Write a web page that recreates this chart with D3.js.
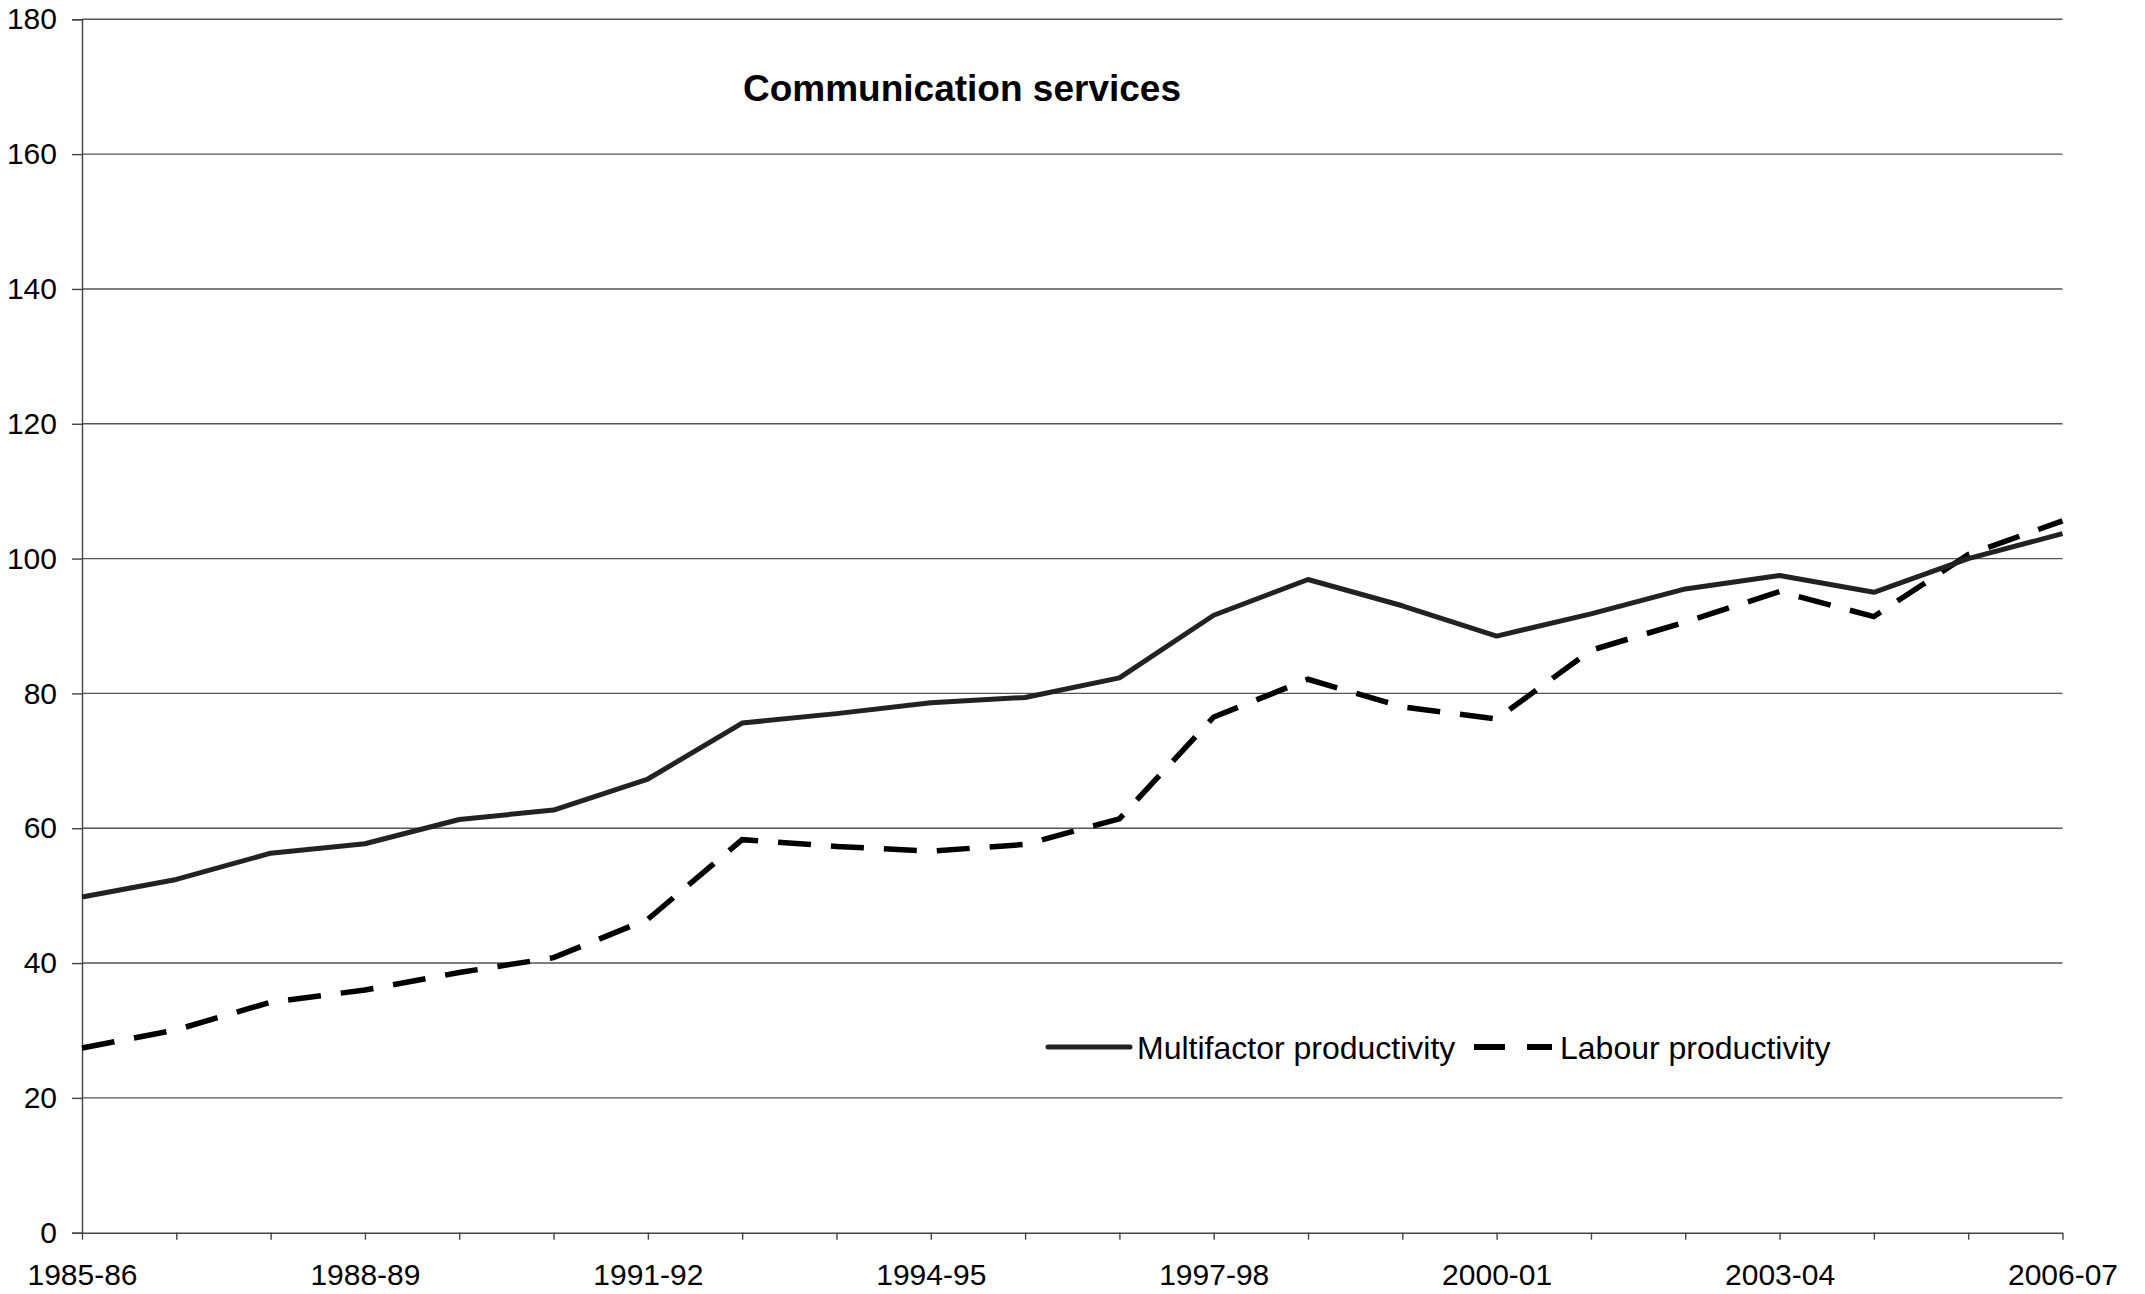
<!DOCTYPE html>
<html>
<head>
<meta charset="utf-8">
<script src="https://cdn.jsdelivr.net/npm/d3@7"></script>
<style>
    body { margin: 0; background: #fff; }
    svg text { font-family: "Liberation Sans", Arial, sans-serif; fill: #000; }
</style>
</head>
<body>
<div id="chart"></div>
<script>
const years = ["1985-86", "1986-87", "1987-88", "1988-89", "1989-90", "1990-91", "1991-92",
    "1992-93", "1993-94", "1994-95", "1995-96", "1996-97", "1997-98", "1998-99", "1999-00",
    "2000-01", "2001-02", "2002-03", "2003-04", "2004-05", "2005-06", "2006-07"];

const multifactor = [49.8, 52.4, 56.3, 57.7, 61.3, 62.7, 67.3, 75.6, 77.0, 78.6, 79.4, 82.3,
    91.6, 96.9, 93.0, 88.5, 91.8, 95.5, 97.5, 95.0, 100.0, 103.7];

const labour = [27.4, 30.1, 34.2, 36.0, 38.6, 40.8, 46.5, 58.3, 57.3, 56.6, 57.6, 61.4,
    76.5, 82.1, 78.0, 76.2, 86.4, 90.6, 95.1, 91.4, 100.6, 105.6];

const yTicks = [0, 20, 40, 60, 80, 100, 120, 140, 160, 180];
const xLabels = ["1985-86", "1988-89", "1991-92", "1994-95", "1997-98", "2000-01", "2003-04", "2006-07"];

const W = 2145, H = 1294;
const plotLeft = 82, plotRight = 2062.5, plotTop = 19.3, plotBottom = 1232.7;

const svg = d3.select("#chart").append("svg")
    .attr("width", W)
    .attr("height", H);

const x = d3.scalePoint().domain(years).range([plotLeft, plotRight]);
const y = d3.scaleLinear().domain([0, 180]).range([plotBottom, plotTop]);

// gridlines
svg.append("g")
    .selectAll("line")
    .data(yTicks.filter(d => d > 0))
    .enter().append("line")
    .attr("x1", plotLeft)
    .attr("x2", plotRight)
    .attr("y1", d => y(d))
    .attr("y2", d => y(d))
    .attr("stroke", "#555")
    .attr("stroke-width", 1.4);

// y axis
const yAxis = svg.append("g")
    .attr("transform", "translate(" + plotLeft + ",0)")
    .call(d3.axisLeft(y).tickValues(yTicks).tickSize(10).tickPadding(15));
yAxis.select(".domain").attr("stroke", "#444").attr("stroke-width", 1.4);
yAxis.selectAll(".tick line").attr("stroke", "#444").attr("stroke-width", 1.4);
yAxis.selectAll("text").style("font-size", "30px").attr("fill", "#000");

// x axis
const xAxis = svg.append("g")
    .attr("transform", "translate(0," + plotBottom + ")")
    .call(d3.axisBottom(x).tickSize(7).tickPadding(24).tickSizeOuter(0)
        .tickFormat(d => xLabels.includes(d) ? d : ""));
xAxis.select(".domain").attr("stroke", "#444").attr("stroke-width", 1.4);
xAxis.selectAll(".tick line").attr("stroke", "#444").attr("stroke-width", 1.4);
xAxis.selectAll("text").style("font-size", "30px").attr("fill", "#000");

const line = d3.line()
    .x((d, i) => x(years[i]))
    .y(d => y(d));

svg.append("path")
    .datum(labour)
    .attr("fill", "none")
    .attr("stroke", "#000")
    .attr("stroke-width", 5.5)
    .attr("stroke-dasharray", "33,20")
    .attr("d", line);

svg.append("path")
    .datum(multifactor)
    .attr("fill", "none")
    .attr("stroke", "#222")
    .attr("stroke-width", 5)
    .attr("stroke-linejoin", "round")
    .attr("d", line);

// title
svg.append("text")
    .attr("x", 962)
    .attr("y", 101)
    .attr("text-anchor", "middle")
    .style("font-size", "37px")
    .style("font-weight", "bold")
    .text("Communication services");

// legend
const legend = svg.append("g");
legend.append("line")
    .attr("x1", 1048).attr("x2", 1130)
    .attr("y1", 1047).attr("y2", 1047)
    .attr("stroke", "#222")
    .attr("stroke-width", 5)
    .attr("stroke-linecap", "round");
legend.append("text")
    .attr("x", 1137).attr("y", 1059)
    .style("font-size", "32px")
    .text("Multifactor productivity");
legend.append("line")
    .attr("x1", 1474).attr("x2", 1552)
    .attr("y1", 1047).attr("y2", 1047)
    .attr("stroke", "#000")
    .attr("stroke-width", 6)
    .attr("stroke-dasharray", "31,22");
legend.append("text")
    .attr("x", 1560).attr("y", 1059)
    .style("font-size", "32px")
    .text("Labour productivity");
</script>
</body>
</html>
